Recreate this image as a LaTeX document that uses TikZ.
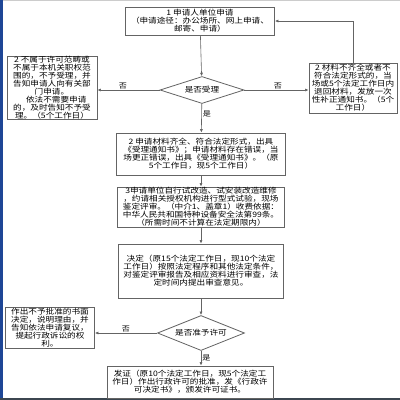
\documentclass[tikz,border=0pt]{standalone}
\usepackage{fontspec}
\newfontfamily\cjk[FakeStretch=1.15]{Noto Sans CJK SC}
\usetikzlibrary{shapes.geometric,arrows.meta}
\definecolor{edge}{RGB}{100,100,100}
\definecolor{sidebar}{RGB}{30,70,150}
\definecolor{footbar}{RGB}{60,70,80}
\begin{document}
\begin{tikzpicture}[x=1pt,y=-1pt,
    main/.style = {draw=edge, line width=0.8pt, rectangle, align=center, inner sep=0pt, font=\cjk\fontsize{7.5}{8}\selectfont},
    choice/.style = {draw=edge, line width=0.8pt, diamond, aspect=3, inner sep=0pt, font=\cjk\fontsize{7.5}{8}\selectfont},
    link/.style = {draw=edge, line width=0.6pt, -{Latex[length=3.5pt,width=3pt]}},
    note/.style = {font=\cjk\fontsize{7}{7}\selectfont, inner sep=1pt}]
    \useasboundingbox (0,0) rectangle (400,400);
    \fill[white] (0,0) rectangle (400,400);
    \fill[gray!40] (0,0) rectangle (400,1);
    \fill[sidebar] (0,0) rectangle (3,400);
    \fill[footbar] (0,397.5) rectangle (400,400);
    \node[main, minimum width=149pt, minimum height=28pt] (1) at (200,21) {1 申请人单位申请\\（申请途径：办公场所、网上申请、\\邮寄、申请）};
    \node[main, minimum width=90pt, minimum height=62pt] (2) at (52,88) {2 不属于许可范畴或\\不属于本机关职权范\\围的，不予受理，并\\告知申请人向有关部\\门申请。\\　依法不需要申请\\的，及时告知不予受\\理。（5个工作日）};
    \node[main, minimum width=88pt, minimum height=50pt] (3) at (353,88) {2 材料不齐全或者不\\符合法定形式的，当\\场或5个法定工作日内\\退回材料，发放一次\\性补正通知书。（5个\\工作日）};
    \node[choice, minimum width=84pt, minimum height=27pt] (4) at (202,90) {是否受理};
    \node[main, minimum width=169pt, minimum height=42pt] (5) at (201,154) {2 申请材料齐全、符合法定形式，出具\\《受理通知书》；申请材料存在错误，当\\场更正错误，出具《受理通知书》。（原\\5个工作日，现5个工作日）};
    \node[main, minimum width=167pt, minimum height=40pt] (6) at (201,207) {3申请单位自行试改造、试安装改造维修\\，约请相关授权机构进行型式试验，现场\\鉴定评审。（中介1、盖章1）收费依据：\\中华人民共和国特种设备安全法第99条。\\（所需时间不计算在法定期限内）};
    \node[main, minimum width=165pt, minimum height=54pt] (7) at (201,271) {决定（原15个法定工作日，现10个法定\\工作日）按照法定程序和其他法定条件，\\对鉴定评审报告及相应资料进行审查，法\\定时间内提出审查意见。};
    \node[choice, minimum width=87pt, minimum height=35pt] (8) at (201,333) {是否准予许可};
    \node[main, minimum width=89pt, minimum height=41pt] (9) at (50,328) {作出不予批准的书面\\决定，说明理由，并\\告知依法申请复议，\\提起行政诉讼的权\\利。};
    \node[main, minimum width=166pt, minimum height=32pt] (10) at (190,382) {发证（原10个法定工作日，现5个法定工\\作日）作出行政许可的批准，发《行政许\\可决定书》，颁发许可证书。};
    \draw[link] (1) -- (4);
    \draw[link] (4) -- node[note, above, pos=0.59] {否} (2.east |- 4);
    \draw[link] (4) -- node[note, above, pos=0.52] {否} (3.west |- 4);
    \draw[link] (3.north) |- (1.east);
    \draw[link] (4) -- node[note, right, pos=0.35] {是} (5);
    \draw[link] (5) -- (6);
    \draw[link] (6) -- (7);
    \draw[link] (7) -- (8);
    \draw[link] (8) -- node[note, above, pos=0.5] {否} (9.east |- 8);
    \draw[link] (8) -- node[note, right, pos=0.45] {是} (8 |- 10.north);
\end{tikzpicture}
\end{document}
